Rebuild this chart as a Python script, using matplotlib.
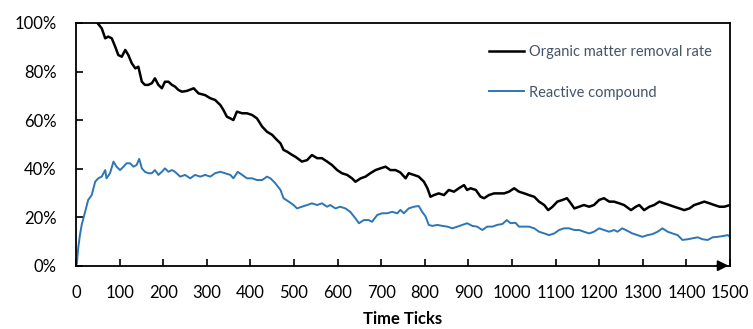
import matplotlib
matplotlib.use("Agg")
import matplotlib.pyplot as plt
from matplotlib.ticker import FuncFormatter

# ---- data (tick, percent) ----
removal_t = [47, 59, 67, 74, 82, 90, 97, 105, 113, 120, 128, 136, 143, 151, 158, 166, 174, 181, 189, 197,
             204, 212, 220, 227, 235, 243, 254, 270, 281, 296, 308, 319, 331, 338, 346, 354, 361, 369, 381, 392,
             404, 415, 427, 438, 450, 461, 469, 476, 484, 496, 503, 518, 530, 541, 553, 564, 576, 587, 599, 610,
             622, 633, 641, 653, 664, 675, 687, 698, 710, 721, 733, 744, 756, 763, 775, 786, 798, 806, 813, 821,
             832, 844, 855, 867, 878, 890, 897, 905, 917, 928, 936, 947, 959, 970, 982, 993, 1005, 1016, 1028, 1039,
             1051, 1062, 1074, 1083, 1093, 1104, 1116, 1126, 1135, 1143, 1154, 1165, 1177, 1188, 1200, 1211, 1223,
             1234, 1246, 1257, 1273, 1284, 1292, 1303, 1315, 1326, 1338, 1349, 1361, 1372, 1384, 1395, 1407, 1418,
             1430, 1441, 1453, 1464, 1476, 1487, 1500]
removal_v = [100.5, 97.8, 93.7, 94.4, 93.7, 90.2, 86.8, 86.1, 88.9, 86.8, 83.4, 81.3, 82.0, 75.8, 74.5, 74.5,
             75.2, 77.2, 74.5, 73.1, 75.8, 75.8, 74.5, 73.8, 72.4, 71.7, 72.0, 73.1, 71.0, 70.3, 69.0, 68.3, 66.2,
             64.2, 61.4, 60.7, 60.0, 63.5, 62.8, 62.8, 62.1, 60.7, 57.3, 55.2, 53.9, 51.8, 50.4, 47.7, 47.0, 45.6,
             44.9, 42.9, 43.5, 45.6, 44.3, 44.3, 42.9, 41.5, 39.4, 38.1, 37.4, 36.0, 34.6, 36.0, 36.7, 38.1, 39.4,
             40.1, 40.8, 39.4, 39.4, 38.4, 36.0, 38.1, 37.4, 36.7, 34.6, 31.9, 28.4, 29.1, 29.8, 29.1, 31.2, 30.5,
             31.9, 33.2, 31.2, 31.9, 31.2, 28.4, 27.8, 29.1, 29.8, 29.8, 29.8, 30.5, 31.9, 30.5, 29.8, 29.1, 28.4,
             26.4, 25.0, 22.9, 24.3, 26.4, 27.1, 27.8, 25.7, 23.6, 24.3, 25.0, 24.3, 25.0, 27.1, 27.8, 26.4, 26.4,
             25.7, 25.0, 22.9, 24.3, 25.0, 22.9, 24.3, 25.0, 26.4, 25.7, 25.0, 24.3, 23.6, 22.9, 23.6, 25.0, 25.7,
             26.4, 25.7, 25.0, 24.3, 24.3, 25.0]

reactive_t = [0, 2, 5, 9, 13, 17, 21, 25, 28, 36, 40, 44, 51, 59, 67, 70, 78, 86, 93, 101, 109, 116, 124, 132,
              139, 145, 151, 158, 166, 174, 181, 189, 197, 204, 212, 220, 227, 239, 250, 262, 273, 285, 296, 308,
              319, 331, 342, 354, 361, 371, 381, 392, 404, 415, 427, 438, 446, 457, 469, 476, 488, 499, 507, 518,
              530, 541, 553, 564, 576, 583, 595, 606, 618, 629, 641, 649, 660, 671, 679, 691, 702, 714, 725, 737,
              744, 752, 763, 775, 786, 794, 802, 809, 817, 829, 840, 852, 863, 875, 886, 897, 909, 920, 932, 943,
              955, 966, 978, 988, 997, 1008, 1016, 1028, 1039, 1051, 1062, 1074, 1085, 1097, 1108, 1119, 1131,
              1143, 1154, 1165, 1177, 1188, 1200, 1211, 1223, 1234, 1242, 1253, 1261, 1276, 1288, 1299, 1311,
              1322, 1334, 1345, 1357, 1368, 1380, 1391, 1403, 1414, 1426, 1437, 1449, 1460, 1472, 1483, 1495, 1500]
reactive_v = [0.0, 1.0, 7.2, 12.6, 16.8, 19.5, 22.2, 25.0, 27.1, 29.1, 31.9, 34.6, 36.0, 36.7, 39.4, 36.0, 38.1,
              42.9, 40.8, 39.4, 40.8, 42.2, 42.2, 40.8, 41.5, 44.0, 40.1, 38.7, 38.1, 38.1, 39.4, 37.4, 38.7, 40.1,
              38.7, 39.4, 38.7, 36.7, 37.4, 36.0, 37.4, 36.7, 37.4, 36.7, 38.1, 38.7, 38.1, 37.4, 36.0, 38.7, 37.4,
              36.0, 36.0, 35.3, 35.3, 36.7, 36.0, 34.0, 31.2, 27.8, 26.4, 25.0, 23.6, 24.3, 25.0, 25.7, 25.0, 25.7,
              24.3, 25.0, 23.6, 24.3, 23.6, 22.2, 19.5, 17.5, 18.8, 18.8, 18.1, 20.9, 21.6, 21.6, 22.2, 21.6, 23.0,
              21.6, 23.6, 24.3, 24.6, 22.2, 20.2, 16.8, 16.4, 16.8, 16.4, 16.1, 15.4, 16.1, 16.8, 17.5, 16.4, 16.1,
              14.7, 16.1, 16.1, 16.8, 17.2, 18.8, 17.5, 17.7, 16.1, 16.1, 16.1, 15.4, 14.0, 13.3, 12.6, 13.3, 14.7,
              15.4, 15.4, 14.7, 14.7, 14.0, 13.3, 14.0, 15.4, 14.7, 14.0, 14.7, 14.0, 15.4, 14.7, 13.3, 12.6, 11.9,
              12.6, 13.0, 14.0, 15.4, 14.0, 13.3, 12.6, 10.6, 10.9, 11.3, 11.7, 10.9, 10.6, 11.7, 11.9, 12.2, 12.6,
              11.9]

series_labels = ["Organic matter removal rate", "Reactive compound"]
x_ticks = list(range(0, 1501, 100))
y_ticks = [0, 20, 40, 60, 80, 100]
x_label = "Time Ticks"

plt.rcParams['font.family'] = ['Lato', 'DejaVu Sans']

fig = plt.figure(figsize=(7.53, 3.29), dpi=100)
ax = fig.add_axes([76 / 753, 1 - 265.7 / 329, 654 / 753, 242.7 / 329])

ax.plot(removal_t, removal_v, color='black', lw=1.8, label=series_labels[0])
ax.plot(reactive_t, reactive_v, color='#2E75B6', lw=1.4, label=series_labels[1])

ax.set_xlim(0, 1500)
ax.set_ylim(0, 100)
ax.set_xticks(x_ticks)
ax.set_yticks(y_ticks)
ax.yaxis.set_major_formatter(FuncFormatter(lambda v, p: f"{v:.0f}%"))
ax.tick_params(axis='both', direction='in', length=5, width=1.2, labelsize=12, colors='black')
ax.tick_params(axis='x', pad=14)
ax.tick_params(axis='y', pad=14)
for s in ax.spines.values():
    s.set_linewidth(1.3)
    s.set_color('black')

ax.set_xlabel(x_label, fontsize=12, fontweight='bold', labelpad=7)

ax.annotate('', xy=(1.002, 0), xytext=(0.975, 0), xycoords='axes fraction',
            arrowprops=dict(arrowstyle='-|>', color='black', lw=1.3, mutation_scale=16),
            annotation_clip=False)

leg = ax.legend(loc='upper left', bbox_to_anchor=(0.622, 0.935), frameon=False,
                fontsize=10.5, handlelength=2.4, handletextpad=0.35, labelspacing=1.85,
                borderaxespad=0)
for t in leg.get_texts():
    t.set_color('#44546A')

fig.savefig('out.png', dpi=100)
